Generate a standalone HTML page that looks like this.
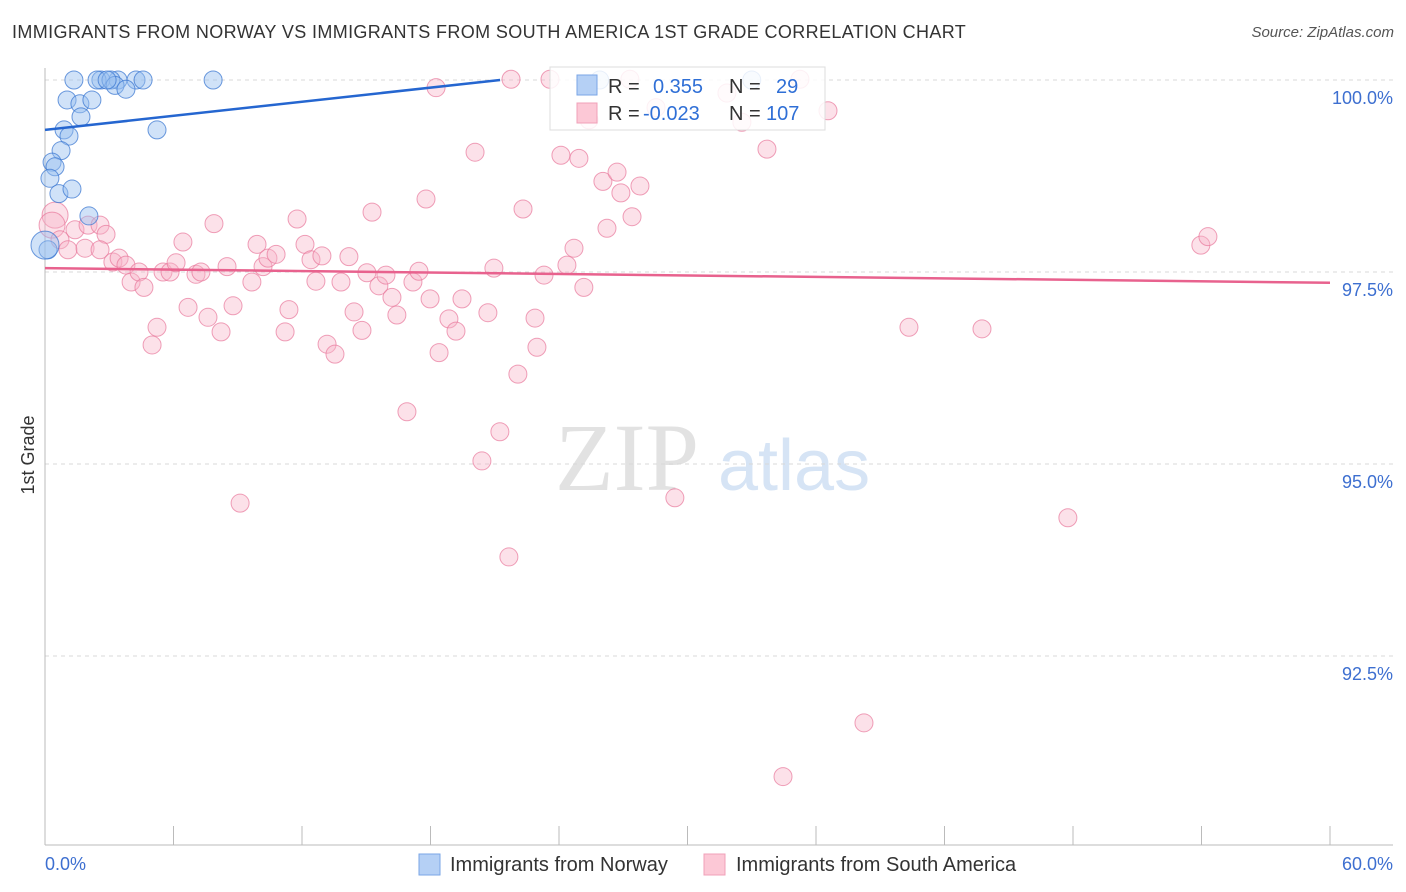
<!DOCTYPE html>
<html><head><meta charset="utf-8"><style>
body{margin:0;background:#fff;font-family:"Liberation Sans",sans-serif;}
#wrap{position:relative;width:1406px;height:892px;overflow:hidden;}
.t{position:absolute;white-space:nowrap;}
</style></head><body>
<div id="wrap">
<div class="t" style="left:12px;top:22px;font-size:18px;color:#333;letter-spacing:0.37px;">IMMIGRANTS FROM NORWAY VS IMMIGRANTS FROM SOUTH AMERICA 1ST GRADE CORRELATION CHART</div>
<div class="t" style="right:12px;top:24px;font-size:15px;color:#555;font-style:italic;">Source: ZipAtlas.com</div>
<svg id="svg" width="1406" height="892" style="position:absolute;left:0;top:0"></svg>
</div>
<script>
const yTicks=[100,97.5,95,92.5];
const yTickLabels=["100.0%","97.5%","95.0%","92.5%"];
const xTickLabels=["0.0%","60.0%"];
const blueX=[1.35,2.61,2.43,3.41,3.08,4.25,4.58,7.85,3.27,3.78,1.03,1.63,2.19,1.68,0.89,1.12,5.23,0.75,0.33,0.47,0.23,0.65,1.26,2.05,0.14,33.0,25.9,0.0,2.9];
const blueY=[100,100,100,100,100,100,100,100,99.93,99.88,99.74,99.69,99.74,99.52,99.35,99.27,99.35,99.08,98.93,98.87,98.72,98.52,98.58,98.23,97.79,100,100,97.85,100];
const pinkX=[0.47,0.33,0.70,1.07,1.40,2.01,2.57,2.85,1.87,2.57,3.17,3.46,3.78,4.02,4.39,4.62,5.23,5.00,5.51,5.84,6.12,6.44,6.68,7.05,7.28,7.61,7.89,8.22,8.50,8.78,9.11,9.66,9.90,10.18,10.41,10.79,11.21,11.39,11.77,12.14,12.42,12.65,12.93,13.17,13.54,13.82,14.19,14.43,14.80,15.03,15.27,15.59,15.92,16.20,16.43,16.90,17.18,17.46,17.79,17.98,18.26,18.40,18.86,19.19,19.47,20.08,20.40,20.68,20.96,21.24,21.66,21.76,22.08,22.32,22.88,22.97,23.30,23.58,24.09,24.37,24.70,24.93,25.16,26.05,26.24,26.71,26.89,27.41,27.78,28.53,29.41,31.84,32.54,33.71,34.46,35.25,36.56,38.24,40.34,43.75,47.76,53.97,54.30,27.31,25.40];
const pinkY=[98.24,98.11,97.92,97.79,98.05,98.11,98.11,97.99,97.81,97.79,97.63,97.68,97.59,97.37,97.50,97.30,96.78,96.55,97.50,97.50,97.62,97.89,97.04,97.47,97.50,96.91,98.13,96.72,97.57,97.06,94.49,97.37,97.86,97.57,97.68,97.73,96.72,97.01,98.19,97.86,97.66,97.38,97.71,96.56,96.43,97.37,97.70,96.98,96.74,97.49,98.28,97.32,97.46,97.17,96.94,95.68,97.37,97.51,98.45,97.15,99.90,96.45,96.89,96.73,97.15,99.06,95.04,96.97,97.55,95.42,93.79,100.01,96.17,98.32,96.90,96.52,97.46,100.01,99.02,97.59,97.81,98.98,97.30,98.68,98.07,98.80,98.53,98.22,98.62,99.64,94.56,99.83,99.45,99.10,90.93,100.01,99.60,91.63,96.78,96.76,94.30,97.85,97.96,100.01,99.48];
const blueTrend=[99.35,100];
const blueTrendX=[0,21.25];
const pinkTrend=[97.55,97.36];

const X0=45,X1=1330,Y100=80,PX_PER=192/2.5;
const xs=v=>X0+(v/60)*(X1-X0);
const ys=v=>Y100+(100-v)*PX_PER;
const svg=document.getElementById('svg');
const NS='http://www.w3.org/2000/svg';
function mk(tag,attrs,name){const e=document.createElementNS(NS,tag);for(const k in attrs)e.setAttribute(k,attrs[k]);


svg.appendChild(e);return e;}
let w=mk('text',{x:555,y:490,'font-size':96,fill:'#e2e2e2','font-family':'Liberation Serif, serif'},'watermark-zip');w.textContent='ZIP';
w=mk('text',{x:718,y:490,'font-size':72,fill:'#d6e4f5','font-family':'Liberation Sans, sans-serif'},'watermark-atlas');w.textContent='atlas';
yTicks.forEach((t,i)=>{
 mk('line',{x1:X0,x2:1393,y1:ys(t),y2:ys(t),stroke:'#d8d8d8','stroke-dasharray':'4,4'},'y-gridline');
 const tx=mk('text',{x:1393,y:ys(t)+24,'text-anchor':'end','font-size':18,fill:'#3d6fd0'},'y-tick-label');tx.textContent=yTickLabels[i];
});
mk('line',{x1:X0,x2:X0,y1:68,y2:845,stroke:'#bbb'},'y-axis');
mk('line',{x1:X0,x2:1393,y1:845,y2:845,stroke:'#bbb'},'x-axis');
for(let i=1;i<=10;i++){mk('line',{x1:xs(i*6),x2:xs(i*6),y1:826,y2:845,stroke:'#bbb'},'x-tick');}
let tl=mk('text',{x:45,y:870,'font-size':18,fill:'#3d6fd0'},'x-tick-label');tl.textContent=xTickLabels[0];
tl=mk('text',{x:1393,y:870,'text-anchor':'end','font-size':18,fill:'#3d6fd0'},'x-tick-label');tl.textContent=xTickLabels[1];
tl=mk('text',{x:34,y:455,'font-size':18,fill:'#333',transform:'rotate(-90 34 455)','text-anchor':'middle'},'y-axis-title');tl.textContent='1st Grade';
pinkX.forEach((x,i)=>{mk('circle',{cx:xs(x),cy:ys(pinkY[i]),r:(i<2?13:9),fill:'rgba(248,180,200,0.4)',stroke:'rgba(232,120,155,0.7)','stroke-width':1},'pink-point');});
blueX.forEach((x,i)=>{mk('circle',{cx:xs(x),cy:ys(blueY[i]),r:(i==27?14:9),fill:'rgba(150,190,240,0.45)',stroke:'rgba(60,120,210,0.75)','stroke-width':1},'blue-point');});
mk('line',{x1:xs(blueTrendX[0]),y1:ys(blueTrend[0]),x2:xs(blueTrendX[1]),y2:ys(blueTrend[1]),stroke:'#2566d0','stroke-width':2.5},'blue-trend-line');
mk('line',{x1:xs(0),y1:ys(pinkTrend[0]),x2:xs(60),y2:ys(pinkTrend[1]),stroke:'#e8628e','stroke-width':2.5},'pink-trend-line');
mk('rect',{x:550,y:67,width:275,height:63,fill:'rgba(255,255,255,0.85)',stroke:'#ddd'},'legend-box');
mk('rect',{x:577,y:75,width:20,height:20,fill:'#b5d0f5',stroke:'#7aa6e6'},'legend-swatch-norway');
mk('rect',{x:577,y:103,width:20,height:20,fill:'#fcc8d6',stroke:'#f0a0b8'},'legend-swatch-south-america');
function lt(x,y,s,c,n){const t=mk('text',{x:x,y:y,'font-size':20,fill:c},n);t.textContent=s;}
lt(608,93,'R =','#333','legend-r-label');lt(653,93,'0.355','#2f6fd6','legend-r-norway');
lt(729,93,'N =','#333','legend-n-label');lt(776,93,'29','#2f6fd6','legend-n-norway');
lt(608,120,'R =','#333','legend-r-label');lt(643,120,'-0.023','#2f6fd6','legend-r-south-america');
lt(729,120,'N =','#333','legend-n-label');lt(766,120,'107','#2f6fd6','legend-n-south-america');
mk('rect',{x:419,y:854,width:21,height:21,fill:'#b5d0f5',stroke:'#7aa6e6'},'bottom-legend-swatch-norway');
lt(450,871,'Immigrants from Norway','#333','bottom-legend-norway');
mk('rect',{x:704,y:854,width:21,height:21,fill:'#fcc8d6',stroke:'#f0a0b8'},'bottom-legend-swatch-south-america');
lt(736,871,'Immigrants from South America','#333','bottom-legend-south-america');
</script>
</body></html>
